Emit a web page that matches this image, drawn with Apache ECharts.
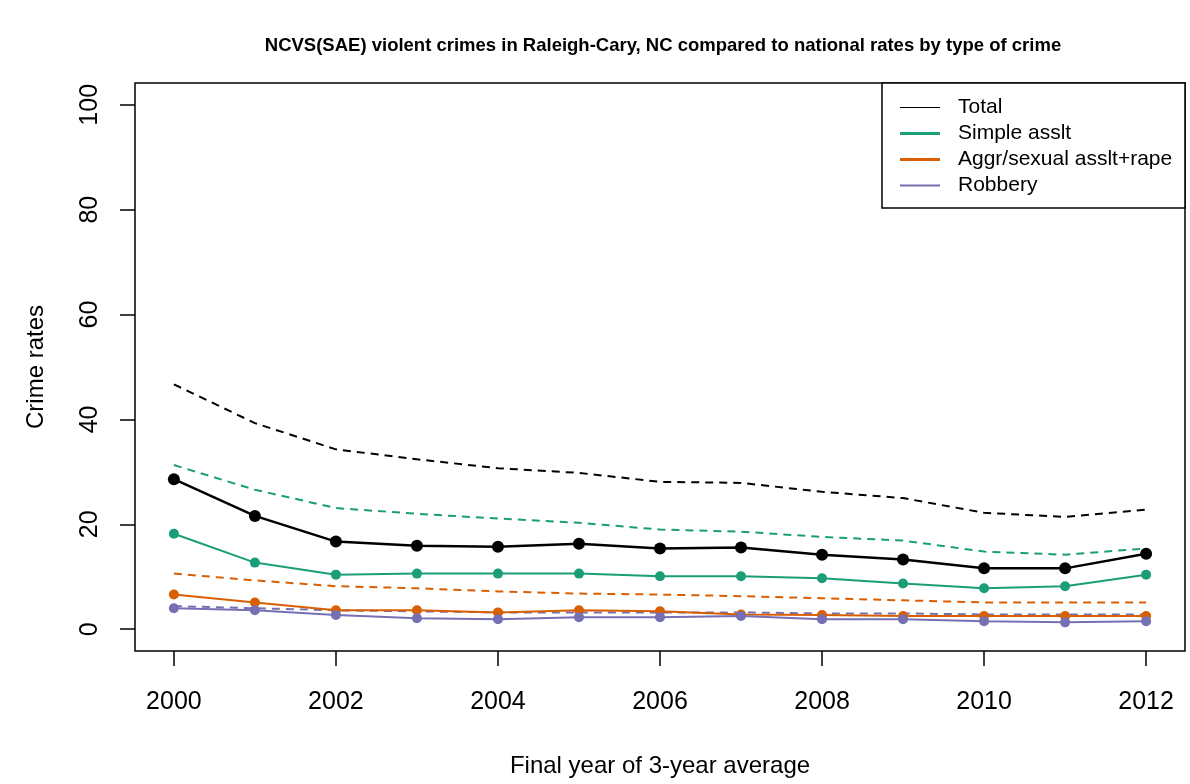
<!DOCTYPE html>
<html>
<head>
<meta charset="utf-8">
<script src="https://cdn.jsdelivr.net/npm/echarts@6/dist/echarts.min.js"></script>
<style>
  html, body { margin: 0; padding: 0; background: #fff; }
  #main { width: 1190px; height: 784px; }
</style>
</head>
<body>
<div id="main"></div>
<script>
// years on x axis (final year of 3-year average)
var years = [2000, 2001, 2002, 2003, 2004, 2005, 2006, 2007, 2008, 2009, 2010, 2011, 2012];
var xTicks = [2000, 2002, 2004, 2006, 2008, 2010, 2012];
var yTicks = [0, 20, 40, 60, 80, 100];

// Raleigh-Cary (solid, with points)
var totalLocal   = [28.6, 21.6, 16.7, 15.9, 15.7, 16.3, 15.4, 15.6, 14.2, 13.3, 11.6, 11.6, 14.4];
var simpleLocal  = [18.2, 12.7, 10.4, 10.6, 10.6, 10.6, 10.1, 10.1, 9.7, 8.7, 7.8, 8.2, 10.4];
var aggrLocal    = [6.6, 5.1, 3.6, 3.6, 3.2, 3.6, 3.4, 2.8, 2.7, 2.5, 2.5, 2.5, 2.5];
var robberyLocal = [4.0, 3.6, 2.7, 2.1, 1.9, 2.3, 2.3, 2.5, 1.9, 1.9, 1.5, 1.3, 1.5];

// national rates (dashed)
var totalNational   = [46.7, 39.3, 34.3, 32.4, 30.7, 29.8, 28.1, 27.9, 26.2, 25.0, 22.2, 21.4, 22.8];
var simpleNational  = [31.3, 26.6, 23.1, 22.0, 21.1, 20.3, 19.0, 18.6, 17.6, 16.9, 14.8, 14.2, 15.4];
var aggrNational    = [10.6, 9.3, 8.2, 7.8, 7.2, 6.8, 6.6, 6.3, 5.9, 5.5, 5.1, 5.1, 5.1];
var robberyNational = [4.4, 4.0, 3.6, 3.4, 3.2, 3.2, 3.2, 3.2, 3.0, 3.0, 2.8, 2.8, 2.8];

var names = ['Total', 'Simple asslt', 'Aggr/sexual asslt+rape', 'Robbery'];
var colors = ['#000000', '#1B9E77', '#D95F02', '#7570B3'];
var localData = [totalLocal, simpleLocal, aggrLocal, robberyLocal];
var nationalData = [totalNational, simpleNational, aggrNational, robberyNational];

var font = "'Liberation Sans', Arial, Helvetica, sans-serif";

function pairs(arr) {
  return years.map(function (y, i) { return [y, arr[i]]; });
}

var series = [];
// dashed national lines first
nationalData.forEach(function (d, i) {
  series.push({
    name: names[i] + ' (national)',
    type: 'line',
    data: pairs(d),
    symbol: 'none',
    lineStyle: { color: colors[i], width: 2, type: [8, 6] },
    z: 2,
    silent: true
  });
});
// solid local lines with dots
localData.forEach(function (d, i) {
  series.push({
    name: names[i],
    type: 'line',
    data: pairs(d),
    symbol: 'circle',
    symbolSize: i === 0 ? 12 : 10,
    itemStyle: { color: colors[i], borderWidth: 0 },
    lineStyle: { color: colors[i], width: i === 0 ? 2.5 : 2 },
    z: 3,
    silent: true
  });
});

var chart = echarts.init(document.getElementById('main'));
var option = {
  animation: false,
  backgroundColor: '#fff',
  grid: {
    left: 135, right: 5, top: 83, bottom: 133,
    outerBoundsMode: 'none', containLabel: false,
    show: true, borderColor: '#000', borderWidth: 1.5, backgroundColor: 'transparent'
  },
  graphic: [
    {
      type: 'text', x: 663, y: 36, z: 10,
      style: {
        text: 'NCVS(SAE) violent crimes in Raleigh-Cary, NC compared to national rates by type of crime',
        font: 'bold 18.5px ' + font, fill: '#000', textAlign: 'center'
      }
    },
    {
      type: 'rect', z: 10,
      shape: { x: 882, y: 83, width: 303, height: 125 },
      style: { fill: '#fff', stroke: '#000', lineWidth: 1.5 }
    }
  ],
  legend: {
    data: [
      { name: 'Total', icon: 'path://M0,0H40V1H0Z' },
      { name: 'Simple asslt', icon: 'path://M0,0H40V3H0Z' },
      { name: 'Aggr/sexual asslt+rape', icon: 'path://M0,0H40V3H0Z' },
      { name: 'Robbery', icon: 'path://M0,0H40V2H0Z' }
    ],
    orient: 'vertical',
    left: 900, top: 97,
    itemWidth: 40, itemHeight: 3, itemGap: 5,
    padding: 0, z: 11,
    selectedMode: false,
    itemStyle: { borderWidth: 0 },
    textStyle: { fontFamily: font, fontSize: 21, color: '#000', lineHeight: 21, padding: [0, 0, 0, 13] }
  },
  xAxis: {
    type: 'value', min: 1999.52, max: 2012.48,
    name: 'Final year of 3-year average', nameLocation: 'middle', nameGap: 103,
    nameTextStyle: { fontFamily: font, fontSize: 24, color: '#000' },
    axisLine: { show: false, onZero: false },
    splitLine: { show: false },
    axisTick: { show: true, inside: false, length: 15, customValues: xTicks, lineStyle: { color: '#000', width: 1.5 } },
    axisLabel: { customValues: xTicks, fontFamily: font, fontSize: 25, color: '#000', margin: 39,
      formatter: function (v) { return String(v); } }
  },
  yAxis: {
    type: 'value', min: -4.16, max: 104.16,
    name: 'Crime rates', nameLocation: 'middle', nameGap: 87, nameRotate: 90,
    nameTextStyle: { fontFamily: font, fontSize: 24, color: '#000' },
    axisLine: { show: false, onZero: false },
    splitLine: { show: false },
    axisTick: { show: true, inside: false, length: 15, customValues: yTicks, lineStyle: { color: '#000', width: 1.5 } },
    axisLabel: { customValues: yTicks, rotate: 90, fontFamily: font, fontSize: 25, color: '#000', margin: 32 }
  },
  series: series
};
chart.setOption(option);
</script>
</body>
</html>
